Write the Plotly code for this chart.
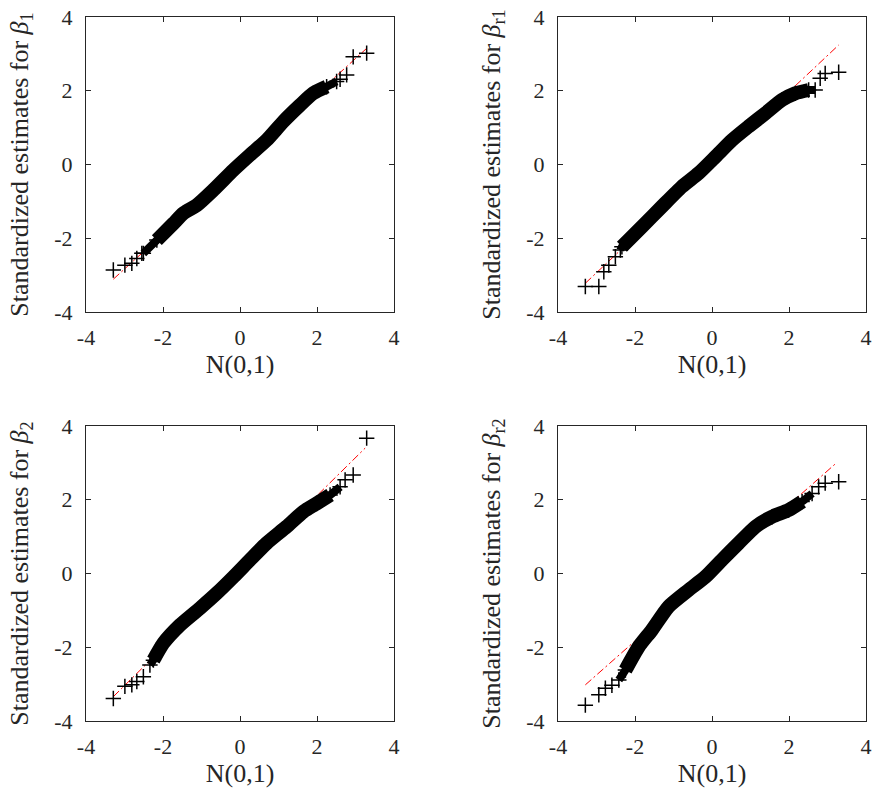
import plotly.graph_objects as go

# ---------------- data ----------------
# Panel 1: beta_1
p1_body_x = [-2.51, -2.16, -1.73, -1.47, -1.12, -0.69, -0.17, 0.26, 0.69, 1.12, 1.56, 1.90, 2.25, 2.51]
p1_body_y = [-2.41, -2.05, -1.60, -1.32, -1.10, -0.69, -0.15, 0.26, 0.66, 1.16, 1.61, 1.93, 2.11, 2.25]
p1_tail_x = [-3.29, -2.99, -2.81, -2.68, -2.55, 2.60, 2.77, 2.94, 3.29]
p1_tail_y = [-2.86, -2.73, -2.68, -2.55, -2.41, 2.31, 2.43, 2.92, 3.02]
p1_ref_x = [-3.29, 3.29]
p1_ref_y = [-3.11, 3.15]

# Panel 2: beta_r1
p2_body_x = [-2.38, -2.34, -1.82, -1.30, -0.78, -0.35, 0.09, 0.52, 0.95, 1.39, 1.82, 2.16, 2.51, 2.68]
p2_body_y = [-2.32, -2.23, -1.69, -1.14, -0.60, -0.24, 0.21, 0.66, 1.03, 1.39, 1.75, 1.93, 2.02, 2.02]
p2_tail_x = [-3.29, -2.94, -2.81, -2.68, -2.51, 2.81, 2.94, 3.29]
p2_tail_y = [-3.31, -3.31, -2.91, -2.73, -2.50, 2.34, 2.47, 2.50]
p2_ref_x = [-3.29, 3.29]
p2_ref_y = [-3.22, 3.24]

# Panel 3: beta_2
p3_body_x = [-2.34, -2.25, -1.99, -1.56, -1.04, -0.61, -0.17, 0.26, 0.69, 1.21, 1.65, 1.99, 2.34, 2.60]
p3_body_y = [-2.48, -2.35, -1.89, -1.40, -0.94, -0.54, -0.09, 0.37, 0.82, 1.27, 1.68, 1.90, 2.13, 2.35]
p3_tail_x = [-3.29, -2.99, -2.81, -2.68, -2.51, 2.73, 2.94, 3.29]
p3_tail_y = [-3.39, -3.06, -3.02, -2.93, -2.80, 2.54, 2.67, 3.67]
p3_ref_x = [-3.29, 3.25]
p3_ref_y = [-3.34, 3.40]

# Panel 4: beta_r2
p4_body_x = [-2.42, -2.25, -1.90, -1.56, -1.13, -0.61, -0.17, 0.26, 0.69, 1.13, 1.56, 1.99, 2.34, 2.60]
p4_body_y = [-2.89, -2.62, -1.98, -1.53, -0.90, -0.45, -0.09, 0.37, 0.82, 1.27, 1.54, 1.72, 1.95, 2.17]
p4_tail_x = [-3.29, -2.94, -2.77, -2.60, 2.77, 2.94, 3.29]
p4_tail_y = [-3.57, -3.29, -3.11, -3.03, 2.35, 2.45, 2.49]
p4_ref_x = [-3.29, 3.20]
p4_ref_y = [-3.02, 2.97]

y_titles = ["Standardized estimates for <i>β</i><sub>1</sub>",
            "Standardized estimates for <i>β</i><sub>r1</sub>",
            "Standardized estimates for <i>β</i><sub>2</sub>",
            "Standardized estimates for <i>β</i><sub>r2</sub>"]
x_title = "N(0,1)"
tick_vals = [-4, -2, 0, 2, 4]
tick_text = ["-4", "-2", "0", "2", "4"]

panels = [
    (p1_body_x, p1_body_y, p1_tail_x, p1_tail_y, p1_ref_x, p1_ref_y),
    (p2_body_x, p2_body_y, p2_tail_x, p2_tail_y, p2_ref_x, p2_ref_y),
    (p3_body_x, p3_body_y, p3_tail_x, p3_tail_y, p3_ref_x, p3_ref_y),
    (p4_body_x, p4_body_y, p4_tail_x, p4_tail_y, p4_ref_x, p4_ref_y),
]

# ---------------- figure ----------------
W, H = 873, 791
FONT = "Liberation Serif"
AX = "#262626"

x_domains = [[86 / W, 394 / W], [558 / W, 866 / W]]
y_domains = [[1 - 312 / H, 1 - 17 / H], [1 - 721 / H, 1 - 426 / H]]

fig = go.Figure()
marker = dict(symbol="cross-thin", size=11, color="black",
              line=dict(width=1.5, color="black"))

for i, (bx, by, tx, ty, rx, ry) in enumerate(panels):
    n = "" if i == 0 else str(i + 1)
    xa, ya = "x" + n, "y" + n
    fig.add_trace(go.Scatter(x=rx, y=ry, mode="lines", xaxis=xa, yaxis=ya,
                             line=dict(color="#ff0000", width=1, dash="8px,3px,2px,3px"),
                             showlegend=False, hoverinfo="skip"))
    # thinner outer part of the dense band (tapered ends)
    fig.add_trace(go.Scatter(x=bx, y=by, mode="lines+markers", xaxis=xa, yaxis=ya,
                             line=dict(color="black", width=8, shape="spline", smoothing=0.6),
                             marker=marker, showlegend=False))
    # thick core of the dense band
    fig.add_trace(go.Scatter(x=bx[1:-1], y=by[1:-1], mode="lines", xaxis=xa, yaxis=ya,
                             line=dict(color="black", width=14, shape="spline", smoothing=0.6),
                             showlegend=False, hoverinfo="skip"))
    fig.add_trace(go.Scatter(x=tx, y=ty, mode="markers", xaxis=xa, yaxis=ya,
                             marker=marker, showlegend=False))

    r, c = divmod(i, 2)
    common = dict(range=[-4, 4], tickvals=tick_vals, ticktext=tick_text,
                  ticks="inside", ticklen=5, tickwidth=1, tickcolor=AX,
                  showline=True, linecolor=AX, linewidth=1, mirror="allticks",
                  showgrid=False, zeroline=False, automargin=False,
                  tickfont=dict(family=FONT, size=22, color=AX))
    xkey = "xaxis" + n
    ykey = "yaxis" + n
    fig.update_layout(**{
        xkey: dict(common, domain=x_domains[c], anchor=ya,
                   title=dict(text=x_title, font=dict(family=FONT, size=26, color=AX), standoff=4),
                   ticklabelstandoff=6),
        ykey: dict(common, domain=y_domains[r], anchor=xa,
                   title=dict(text=y_titles[i], font=dict(family=FONT, size=26, color=AX), standoff=18),
                   ticklabelstandoff=8),
    })

fig.update_layout(width=W, height=H, margin=dict(l=0, r=0, t=0, b=0),
                  paper_bgcolor="white", plot_bgcolor="rgba(0,0,0,0)",
                  font=dict(family=FONT, color=AX))

fig.write_html("out.html", config={"displayModeBar": False},
               post_script="document.body.style.margin='0px';")
